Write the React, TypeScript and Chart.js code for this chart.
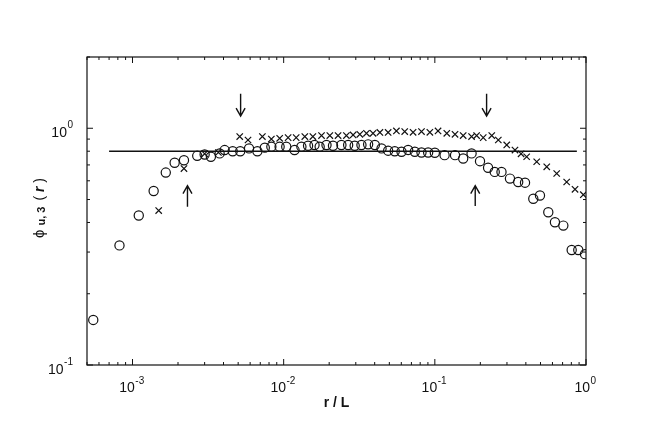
import React, { useEffect, useRef } from "react";
import { Chart, registerables } from "chart.js";

Chart.register(...registerables);

// ---- data ----
const circleR = [
  5.5e-4, 8.2e-4, 1.1e-3, 1.38e-3, 1.66e-3, 1.9e-3, 2.19e-3, 2.68e-3, 3.0e-3, 3.3e-3,
  3.77e-3, 4.07e-3, 4.6e-3, 5.16e-3, 5.9e-3, 6.7e-3, 7.5e-3, 8.29e-3, 9.4e-3, 0.0104,
  0.0118, 0.0131, 0.0145, 0.016, 0.0173, 0.0192, 0.0212, 0.0241, 0.0267, 0.0295,
  0.0327, 0.0362, 0.0401, 0.0444, 0.0491, 0.0543, 0.0602, 0.0666, 0.0737, 0.0816,
  0.0903, 0.1, 0.116, 0.136, 0.154, 0.175, 0.199, 0.225, 0.249, 0.276,
  0.314, 0.356, 0.395, 0.448, 0.496, 0.563, 0.623, 0.708, 0.804, 0.889, 0.985,
];
const circlePhi = [
  0.155, 0.32, 0.428, 0.543, 0.65, 0.715, 0.733, 0.765, 0.775, 0.758,
  0.783, 0.809, 0.8, 0.8, 0.822, 0.8, 0.828, 0.836, 0.836, 0.836,
  0.809, 0.836, 0.844, 0.85, 0.836, 0.85, 0.844, 0.85, 0.85, 0.844,
  0.85, 0.855, 0.85, 0.822, 0.804, 0.8, 0.796, 0.81, 0.796, 0.79,
  0.79, 0.788, 0.77, 0.77, 0.745, 0.783, 0.726, 0.681, 0.654, 0.654,
  0.613, 0.593, 0.589, 0.504, 0.52, 0.442, 0.401, 0.388, 0.306, 0.306, 0.294,
];
const crossR = [
  1.49e-3, 2.19e-3, 3.0e-3, 3.7e-3, 5.12e-3, 5.81e-3, 7.23e-3, 8.29e-3, 9.41e-3, 0.0107,
  0.0121, 0.0138, 0.0156, 0.0178, 0.0202, 0.0229, 0.026, 0.0288, 0.0319, 0.0353,
  0.039, 0.0433, 0.0491, 0.0557, 0.0632, 0.0718, 0.0816, 0.0927, 0.105, 0.12,
  0.136, 0.154, 0.175, 0.189, 0.209, 0.238, 0.263, 0.299, 0.339, 0.372,
  0.405, 0.472, 0.55, 0.64, 0.745, 0.846, 0.96,
];
const crossPhi = [
  0.449, 0.676, 0.78, 0.79, 0.922, 0.892, 0.922, 0.9, 0.907, 0.913,
  0.913, 0.922, 0.922, 0.931, 0.931, 0.931, 0.931, 0.937, 0.943, 0.952,
  0.952, 0.96, 0.96, 0.974, 0.968, 0.961, 0.968, 0.961, 0.974, 0.952,
  0.943, 0.931, 0.922, 0.931, 0.913, 0.931, 0.892, 0.85, 0.809, 0.78,
  0.758, 0.722, 0.687, 0.644, 0.593, 0.552, 0.524,
];
const refLineR = [7e-4, 0.87];
const refLinePhi = [0.8, 0.8];

const xTickValues = [1e-3, 1e-2, 1e-1, 1];
const xTickBase = ["10", "10", "10", "10"];
const xTickExp = ["-3", "-2", "-1", "0"];
const yTickValues = [0.1, 1];
const yTickBase = ["10", "10"];
const yTickExp = ["-1", "0"];

const xTitle = "r / L";
const yTitleParts = ["\u03D5", "u, 3", "( ", "r", " )"];

const arrowR = [5.19e-3, 0.22, 2.31e-3, 0.185];
const arrowTail = [1.4, 1.4, 0.466, 0.47];
const arrowHead = [1.125, 1.125, 0.572, 0.572];

const X_MIN = 5e-4;
const X_MAX = 1;
const Y_MIN = 0.1;
const Y_MAX = 2;

const FONT = "'Liberation Sans', Arial, Helvetica, sans-serif";
const INK = "#111";

const framePlugin = {
  id: "frameTicks",
  afterDatasetsDraw(chart: any) {
    const { ctx, chartArea: a, scales } = chart;
    ctx.save();
    ctx.strokeStyle = INK;
    ctx.fillStyle = INK;
    ctx.lineWidth = 1.2;
    ctx.strokeRect(a.left, a.top, a.right - a.left, a.bottom - a.top);
    const drawAxisTicks = (scale: any, horizontal: boolean) => {
      const lo = Math.floor(Math.log10(scale.min));
      const hi = Math.ceil(Math.log10(scale.max));
      for (let e = lo; e <= hi; e++) {
        for (let m = 1; m <= 9; m++) {
          const v = m * Math.pow(10, e);
          if (v < scale.min * 0.999 || v > scale.max * 1.001) continue;
          const len = m === 1 ? 6 : 3;
          const p = scale.getPixelForValue(v);
          ctx.beginPath();
          if (horizontal) {
            ctx.moveTo(p, a.bottom);
            ctx.lineTo(p, a.bottom - len);
            ctx.moveTo(p, a.top);
            ctx.lineTo(p, a.top + len);
          } else {
            ctx.moveTo(a.left, p);
            ctx.lineTo(a.left + len, p);
            ctx.moveTo(a.right, p);
            ctx.lineTo(a.right - len, p);
          }
          ctx.stroke();
        }
      }
    };
    ctx.lineWidth = 1;
    drawAxisTicks(scales.x, true);
    drawAxisTicks(scales.y, false);

    // tick labels (power-of-ten with raised exponent), placed by the scales
    const baseFont = `14px ${FONT}`;
    const expFont = `10px ${FONT}`;
    ctx.textBaseline = "alphabetic";
    ctx.textAlign = "left";
    scales.x.ticks.forEach((t: any, i: number) => {
      const p = scales.x.getPixelForValue(t.value);
      ctx.font = baseFont;
      const wb = ctx.measureText(xTickBase[i]).width;
      ctx.font = expFont;
      const we = ctx.measureText(xTickExp[i]).width;
      const x0 = p - (wb + we) / 2 - 1;
      ctx.font = baseFont;
      ctx.fillText(xTickBase[i], x0, a.bottom + 27);
      ctx.font = expFont;
      ctx.fillText(xTickExp[i], x0 + wb + 0.5, a.bottom + 19);
    });
    scales.y.ticks.forEach((t: any, i: number) => {
      const p = scales.y.getPixelForValue(t.value);
      ctx.font = baseFont;
      const wb = ctx.measureText(yTickBase[i]).width;
      ctx.font = expFont;
      const we = ctx.measureText(yTickExp[i]).width;
      const right = a.left - 14;
      const x0 = right - we - wb - 0.5;
      ctx.font = baseFont;
      ctx.fillText(yTickBase[i], x0, p + 9);
      ctx.font = expFont;
      ctx.fillText(yTickExp[i], x0 + wb + 0.5, p);
    });

    // arrows
    ctx.lineWidth = 1.4;
    for (let i = 0; i < arrowR.length; i++) {
      const x = scales.x.getPixelForValue(arrowR[i]);
      const y0 = scales.y.getPixelForValue(arrowTail[i]);
      const y1 = scales.y.getPixelForValue(arrowHead[i]);
      const dir = y1 > y0 ? 1 : -1;
      ctx.beginPath();
      ctx.moveTo(x, y0);
      ctx.lineTo(x, y1);
      ctx.moveTo(x - 4.5, y1 - dir * 8);
      ctx.lineTo(x, y1);
      ctx.lineTo(x + 4.5, y1 - dir * 8);
      ctx.stroke();
    }

    // y title with subscript
    const cx = 40;
    const cy = (a.top + a.bottom) / 2 - 3;
    const fonts = [
      `15px ${FONT}`,
      `bold 11px ${FONT}`,
      `14px ${FONT}`,
      `italic bold 14px ${FONT}`,
      `14px ${FONT}`,
    ];
    const offs = [0, 2, 0, 0, 0];
    const gaps = [4, 6, 0, 0, 0];
    let total = 0;
    const widths: number[] = [];
    yTitleParts.forEach((t, i) => {
      ctx.font = fonts[i];
      const w = ctx.measureText(t).width;
      widths.push(w);
      total += w + gaps[i];
    });
    ctx.translate(cx, cy);
    ctx.rotate(-Math.PI / 2);
    ctx.textBaseline = "middle";
    ctx.textAlign = "left";
    let px = -total / 2;
    yTitleParts.forEach((t, i) => {
      ctx.font = fonts[i];
      ctx.fillText(t, px, offs[i]);
      px += widths[i] + gaps[i];
    });
    ctx.restore();
  },
};

export default function App() {
  const ref = useRef<HTMLCanvasElement | null>(null);
  useEffect(() => {
    if (!ref.current) return;
    const toPts = (xs: number[], ys: number[]) => xs.map((x, i) => ({ x, y: ys[i] }));
    const chart = new Chart(ref.current, {
      type: "scatter",
      data: {
        datasets: [
          {
            label: "line",
            type: "line",
            data: toPts(refLineR, refLinePhi),
            borderColor: INK,
            borderWidth: 1.5,
            pointRadius: 0,
            showLine: true,
            fill: false,
          } as any,
          {
            label: "circles",
            data: toPts(circleR, circlePhi),
            pointStyle: "circle",
            pointRadius: 4.6,
            borderColor: INK,
            backgroundColor: "rgba(0,0,0,0)",
            borderWidth: 1.2,
          },
          {
            label: "crosses",
            data: toPts(crossR, crossPhi),
            pointStyle: "crossRot",
            pointRadius: 4.5,
            borderColor: INK,
            borderWidth: 1.2,
          },
        ],
      },
      options: {
        responsive: false,
        animation: false,
        events: [],
        layout: { padding: { left: 0, top: 57, right: 68, bottom: 0 } },
        plugins: { legend: { display: false }, tooltip: { enabled: false } },
        scales: {
          x: {
            type: "logarithmic",
            min: X_MIN,
            max: X_MAX,
            grid: { display: false, drawTicks: false },
            border: { display: false },
            afterBuildTicks: (s: any) => {
              s.ticks = xTickValues.map((v) => ({ value: v }));
            },
            afterFit: (s: any) => {
              s.height = 76;
            },
            ticks: { display: false },
            title: {
              display: true,
              text: xTitle,
              color: INK,
              font: { family: FONT, size: 14, weight: "bold" },
              padding: { top: 0, bottom: 29 },
            },
          },
          y: {
            type: "logarithmic",
            min: Y_MIN,
            max: Y_MAX,
            grid: { display: false, drawTicks: false },
            border: { display: false },
            afterBuildTicks: (s: any) => {
              s.ticks = yTickValues.map((v) => ({ value: v }));
            },
            afterFit: (s: any) => {
              s.width = 87;
            },
            ticks: { display: false },
            title: { display: false },
          },
        },
      },
      plugins: [framePlugin],
    } as any);
    return () => chart.destroy();
  }, []);
  return (
    <div style={{ position: "absolute", left: 0, top: 0, width: 654, height: 441, background: "#fff" }}>
      <canvas ref={ref} width={654} height={441} />
    </div>
  );
}
